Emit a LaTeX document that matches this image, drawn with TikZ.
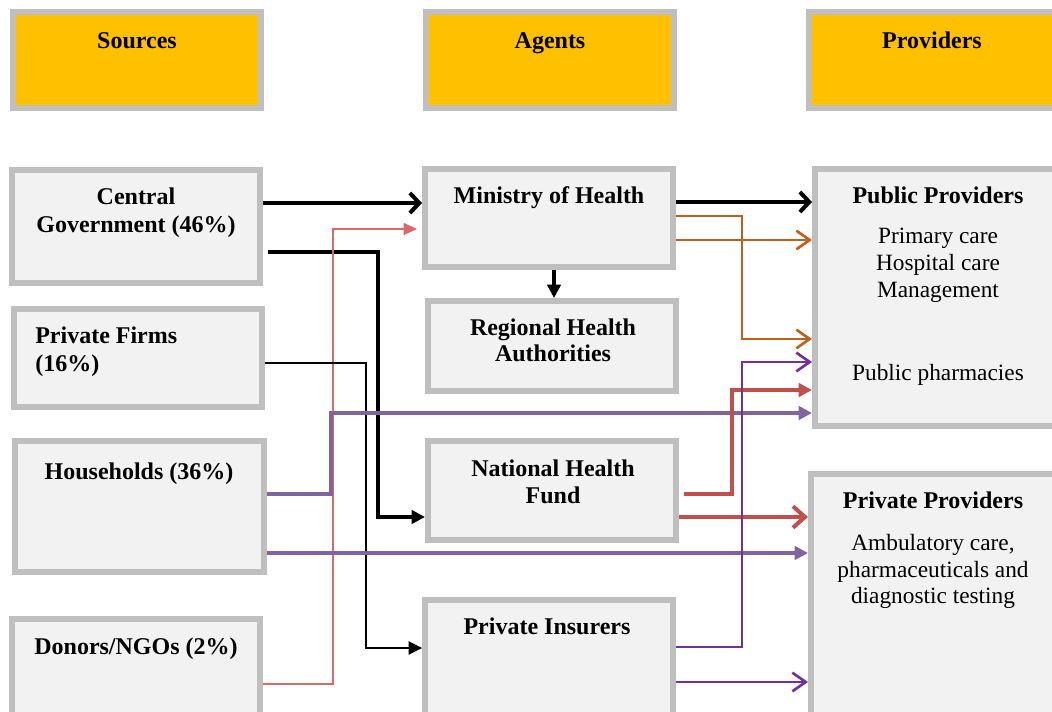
\documentclass[tikz,border=0pt]{standalone}
\usepackage{fontspec}
\setmainfont{Liberation Serif}
\usetikzlibrary{arrows.meta}
\definecolor{boxgray}{HTML}{BFBFBF}
\definecolor{boxfill}{HTML}{F2F2F2}
\definecolor{hdr}{HTML}{FFC000}
\definecolor{brn}{HTML}{C0601A}
\definecolor{rd}{HTML}{C0504D}
\definecolor{rdl}{HTML}{D66A6A}
\definecolor{hhp}{HTML}{8064A2}
\definecolor{pip}{HTML}{7030A0}
\begin{document}
\begin{tikzpicture}[x=0.75pt,y=-0.75pt,
  box/.style={draw=boxgray,line width=4.5pt,fill=boxfill,anchor=north west,inner sep=0pt},
  hbox/.style={box,fill=hdr},
  bt/.style={font=\fontsize{18}{21}\selectfont\bfseries,anchor=base,inner sep=0pt},
  rt/.style={font=\fontsize{17.5}{21}\selectfont,anchor=base,inner sep=0pt},
  thickln/.style={line width=3pt},
  medln/.style={line width=2pt},
  thinln/.style={line width=0.8pt},
  chevbig/.style={-{Straight Barb[length=7pt,width=15pt]}},
  chevred/.style={-{Straight Barb[length=9pt,width=16pt]}},
  chevmed/.style={-{Straight Barb[length=10pt,width=14pt]}},
  tri/.style={-{Triangle[length=10pt,width=10pt]}},
  trithin/.style={-{Triangle[length=10pt,width=9pt]}}
]
\useasboundingbox (0,0) rectangle (1052,712);
% headers
\node[hbox,minimum width=186pt,minimum height=72pt] (hs) at (10,9) {};
\node[hbox,minimum width=186pt,minimum height=72pt] (ha) at (423,9) {};
\node[hbox,minimum width=193.5pt,minimum height=72pt] (hp) at (806,9) {};
\node[bt] (hsT) at (137,49) {Sources};
\node[bt] (haT) at (550,49) {Agents};
\node[bt] (hpT) at (932,49) {Providers};
% sources
\node[box,minimum width=186pt,minimum height=84.75pt] (cg) at (9,167) {};
\node[box,minimum width=186pt,minimum height=73.5pt] (pf) at (11,306) {};
\node[box,minimum width=186.75pt,minimum height=98.25pt] (hh) at (12,438) {};
\node[box,minimum width=186pt,minimum height=88.5pt] (dn) at (9,616) {};
% agents
\node[box,minimum width=186pt,minimum height=73.5pt] (mh) at (422,166) {};
\node[box,minimum width=186pt,minimum height=67.5pt] (rh) at (425,298) {};
\node[box,minimum width=186pt,minimum height=74.25pt] (nf) at (425,438) {};
\node[box,minimum width=186pt,minimum height=102.75pt] (pi) at (422,597) {};
% providers
\node[box,minimum width=189pt,minimum height=192.75pt] (pp) at (812,166) {};
\node[box,minimum width=192pt,minimum height=197.25pt] (pv) at (808,471) {};
% texts
\node[bt] (cgT1) at (136,205) {Central};
\node[bt] (cgT2) at (136,233) {Government (46\%)};
\node[bt,anchor=base west] (pfT1) at (35,344) {Private Firms};
\node[bt,anchor=base west] (pfT2) at (35,372) {(16\%)};
\node[bt] (hhT) at (139,479) {Households (36\%)};
\node[bt] (dnT) at (136,654) {Donors/NGOs (2\%)};
\node[bt] (mhT) at (549,204) {Ministry of Health};
\node[bt] (rhT1) at (553,336) {Regional Health};
\node[bt] (rhT2) at (553,362) {Authorities};
\node[bt] (nfT1) at (553,476) {National Health};
\node[bt] (nfT2) at (553,503) {Fund};
\node[bt] (piT) at (547,634) {Private Insurers};
\node[bt] (ppT) at (938,204) {Public Providers};
\node[rt] (ppT1) at (938,244) {Primary care};
\node[rt] (ppT2) at (938,271) {Hospital care};
\node[rt] (ppT3) at (938,298) {Management};
\node[rt] (ppT4) at (938,381) {Public pharmacies};
\node[bt] (pvT) at (933,508) {Private Providers};
\node[rt] (pvT1) at (933,550) {Ambulatory care,};
\node[rt] (pvT2) at (933,577) {pharmaceuticals and};
\node[rt] (pvT3) at (933,603) {diagnostic testing};
% connectors
\draw[thickln,chevbig] (cg.east|-0,203) -- (mh.west|-0,203);
\draw[thickln,chevbig] (mh.east|-0,202) -- (pp.west|-0,202);
\draw[thickln,tri] ([xshift=4pt]cg.east|-0,252) -| (378,517) -- (nf.west|-0,517);
\draw[thickln,tri] (mh.south-|554,0) -- (rh.north-|554,0);
\draw[thinln,rdl,trithin,shorten >=3.75pt] (dn.east|-0,684) -| (333,229) -- (mh.west|-0,229);
\draw[thinln,tri] (pf.east|-0,363) -| (366,648) -- (pi.west|-0,648);
\draw[thickln,hhp,tri] (hh.east|-0,494) -| (331,413) -- (pp.west|-0,413);
\draw[thickln,hhp,tri] (hh.east|-0,553) -- (pv.west|-0,553);
\draw[medln,brn,chevmed] (mh.east|-0,240) -- (pp.west|-0,240);
\draw[medln,brn,chevmed] (mh.east|-0,216) -| (742,339) -- (pp.west|-0,339);
\draw[thickln,rd,tri] ([xshift=4pt]nf.east|-0,494) -| (732,390) -- (pp.west|-0,390);
\draw[thickln,rd,chevred] (nf.east|-0,517) -- (pv.west|-0,517);
\draw[medln,pip,chevmed] (pi.east|-0,647) -| (742,362) -- (pp.west|-0,362);
\draw[medln,pip,chevmed] (pi.east|-0,682) -- (pv.west|-0,682);
\end{tikzpicture}
\end{document}
